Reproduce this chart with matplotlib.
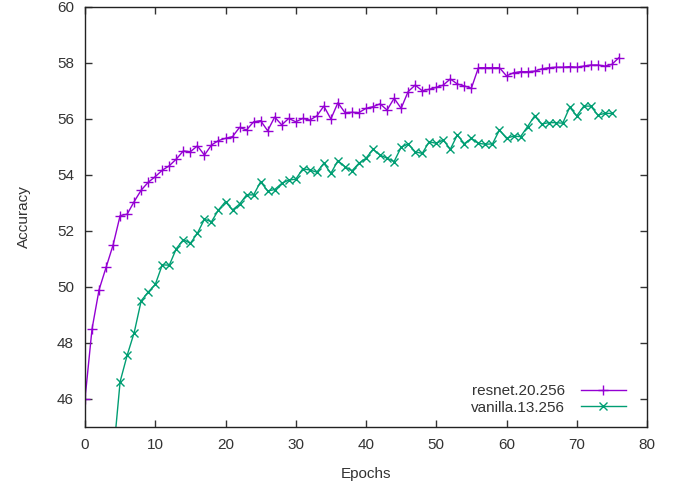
import matplotlib
matplotlib.use('Agg')
import matplotlib.pyplot as plt

# resnet.20.256, epochs 0..76
resnet_acc = [46.0, 48.5, 49.9, 50.7, 51.5, 52.55, 52.6, 53.05, 53.46, 53.74,
              53.94, 54.17, 54.33, 54.57, 54.86, 54.83, 55.04, 54.71, 55.07, 55.23,
              55.31, 55.37, 55.70, 55.61, 55.90, 55.94, 55.58, 56.07, 55.79, 56.02,
              55.90, 56.02, 55.96, 56.11, 56.46, 56.0, 56.58, 56.23, 56.24, 56.23,
              56.38, 56.44, 56.54, 56.32, 56.74, 56.38, 56.98, 57.21, 57.01, 57.06,
              57.13, 57.21, 57.43, 57.25, 57.18, 57.1, 57.83, 57.83, 57.83, 57.83,
              57.54, 57.65, 57.69, 57.69, 57.71, 57.79, 57.83, 57.85, 57.85, 57.87,
              57.85, 57.89, 57.93, 57.93, 57.89, 57.95, 58.19]
resnet_epochs = list(range(0, len(resnet_acc)))

# vanilla.13.256, epochs 4..75
vanilla_acc = [43.9, 46.62, 47.56, 48.37, 49.51, 49.82, 50.09, 50.79, 50.78, 51.37,
               51.69, 51.56, 51.92, 52.42, 52.33, 52.75, 53.05, 52.75, 52.96, 53.29,
               53.29, 53.76, 53.43, 53.48, 53.7, 53.82, 53.85, 54.22, 54.18, 54.1,
               54.42, 54.06, 54.51, 54.3, 54.15, 54.42, 54.6, 54.92, 54.71, 54.6,
               54.48, 54.99, 55.11, 54.83, 54.77, 55.19, 55.13, 55.25, 54.92, 55.43,
               55.12, 55.31, 55.13, 55.10, 55.11, 55.61, 55.31, 55.39, 55.37, 55.73,
               56.11, 55.82, 55.87, 55.87, 55.85, 56.42, 56.11, 56.46, 56.46, 56.14,
               56.2, 56.2]
vanilla_epochs = list(range(4, 4 + len(vanilla_acc)))

plt.rcParams['font.family'] = ['Liberation Sans', 'DejaVu Sans']
text_col = '#333333'

fig = plt.figure(figsize=(6.81, 4.88), dpi=100)
ax = fig.add_axes([85/681, 1 - 427/488, (647 - 85)/681, (427 - 7)/488])

ax.plot(resnet_epochs, resnet_acc, color='#9400d3', lw=1, marker='+',
        ms=7, mew=1, label='resnet.20.256')
ax.plot(vanilla_epochs, vanilla_acc, color='#009e73', lw=1, marker='x',
        ms=5.5, mew=1, label='vanilla.13.256')

ax.set_xlim(0, 80)
ax.set_ylim(45, 60)
ax.set_xticks(range(0, 81, 10))
ax.set_yticks(range(46, 61, 2))
ax.tick_params(direction='in', top=True, right=True, length=5, width=1,
               labelsize=11, labelcolor=text_col, color='#333333', pad=8)
for s in ax.spines.values():
    s.set_color('#222222')
    s.set_linewidth(1)

ax.set_xlabel('Epochs', fontsize=11, color=text_col, labelpad=11)
ax.set_ylabel('Accuracy', fontsize=11, color=text_col, labelpad=19)

leg = ax.legend(loc='lower right', frameon=False, markerfirst=False,
                fontsize=11, handlelength=3.0, handletextpad=1.0,
                borderaxespad=0.4, labelspacing=0.15,
                bbox_to_anchor=(0.985, 0.0))
for t in leg.get_texts():
    t.set_color(text_col)

fig.savefig('out.png', dpi=100)
